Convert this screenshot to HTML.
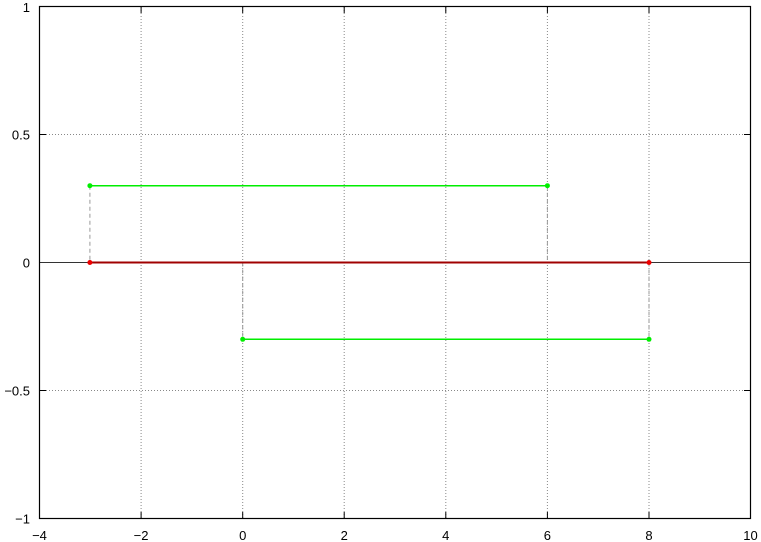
<!DOCTYPE html>
<html><head><style>body{margin:0;background:#fff}svg{display:block}</style></head>
<body>
<svg width="761" height="542" xmlns="http://www.w3.org/2000/svg" font-family="Liberation Sans, sans-serif" font-size="13">
<g stroke="#888" stroke-width="1" stroke-dasharray="1,2">
<line x1="141.1" y1="7" x2="141.1" y2="518"/>
<line x1="242.7" y1="7" x2="242.7" y2="518"/>
<line x1="344.2" y1="7" x2="344.2" y2="518"/>
<line x1="445.8" y1="7" x2="445.8" y2="518"/>
<line x1="547.4" y1="7" x2="547.4" y2="518"/>
<line x1="649" y1="7" x2="649" y2="518"/>
<line x1="40" y1="134.5" x2="750" y2="134.5"/>
<line x1="40" y1="390.5" x2="750" y2="390.5"/>
</g>
<line x1="40" y1="262.5" x2="750" y2="262.5" stroke="#333" stroke-width="1"/>
<g stroke="#000" stroke-width="1">
<line x1="141.1" y1="518.5" x2="141.1" y2="512"/><line x1="141.1" y1="6.5" x2="141.1" y2="13"/>
<line x1="242.7" y1="518.5" x2="242.7" y2="512"/><line x1="242.7" y1="6.5" x2="242.7" y2="13"/>
<line x1="344.2" y1="518.5" x2="344.2" y2="512"/><line x1="344.2" y1="6.5" x2="344.2" y2="13"/>
<line x1="445.8" y1="518.5" x2="445.8" y2="512"/><line x1="445.8" y1="6.5" x2="445.8" y2="13"/>
<line x1="547.4" y1="518.5" x2="547.4" y2="512"/><line x1="547.4" y1="6.5" x2="547.4" y2="13"/>
<line x1="649" y1="518.5" x2="649" y2="512"/><line x1="649" y1="6.5" x2="649" y2="13"/>
<line x1="39.5" y1="134.5" x2="46" y2="134.5"/><line x1="750.5" y1="134.5" x2="744" y2="134.5"/>
<line x1="39.5" y1="390.5" x2="46" y2="390.5"/><line x1="750.5" y1="390.5" x2="744" y2="390.5"/>
</g>
<g stroke="#999" stroke-width="1" stroke-dasharray="4,3">
<line x1="89.9" y1="185.7" x2="89.9" y2="262.5"/>
<line x1="547.4" y1="185.7" x2="547.4" y2="262.5"/>
<line x1="242.7" y1="262.5" x2="242.7" y2="339.3"/>
<line x1="649" y1="262.5" x2="649" y2="339.3"/>
</g>
<g stroke="#00ee00" stroke-width="1.5" fill="#00ee00">
<line x1="89.9" y1="185.7" x2="547.4" y2="185.7"/>
<line x1="242.7" y1="339.3" x2="649" y2="339.3"/>
<circle cx="89.9" cy="185.7" r="2.5" stroke="none"/><circle cx="547.4" cy="185.7" r="2.5" stroke="none"/>
<circle cx="242.7" cy="339.3" r="2.5" stroke="none"/><circle cx="649" cy="339.3" r="2.5" stroke="none"/>
</g>
<line x1="89.9" y1="262.5" x2="649" y2="262.5" stroke="#a00000" stroke-width="2"/>
<circle cx="89.9" cy="262.5" r="2.5" fill="#ee0000"/><circle cx="649" cy="262.5" r="2.5" fill="#ee0000"/>
<rect x="39.5" y="6.5" width="711" height="512" fill="none" stroke="#000" stroke-width="1.2"/>
<g text-anchor="end">
<text x="30" y="12">1</text><text x="30" y="139.5">0.5</text><text x="30" y="267.5">0</text>
<text x="30" y="395.5">−0.5</text><text x="30" y="523.5">−1</text>
</g>
<g text-anchor="middle">
<text x="39.5" y="540">−4</text><text x="141.1" y="540">−2</text><text x="242.7" y="540">0</text>
<text x="344.2" y="540">2</text><text x="445.8" y="540">4</text><text x="547.4" y="540">6</text>
<text x="649" y="540">8</text><text x="750.5" y="540">10</text>
</g>
</svg>
</body></html>
